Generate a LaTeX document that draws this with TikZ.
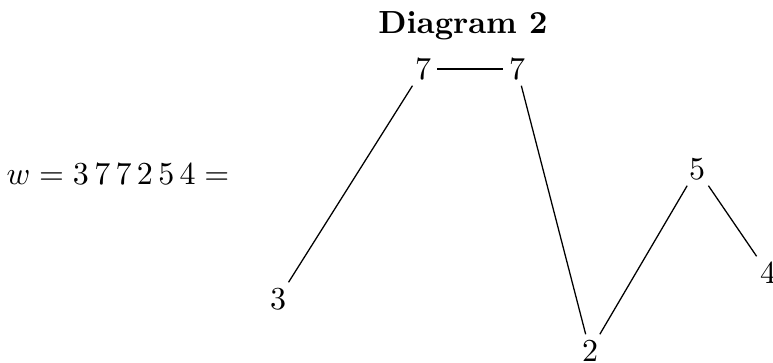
\documentclass[tikz,border=0pt]{standalone}
\usepackage{amsmath}
\usepackage{tikz}
\usetikzlibrary{positioning}
\tikzset{
    entry/.style={inner sep=1.8pt},
    link/.style={line width=0.4pt},
    pair/.style={line width=0.65pt},
}
\begin{document}
\begin{tikzpicture}[x=0.3125pt, y=-0.3125pt]
        \useasboundingbox (0,0) rectangle (773,363);
        % title and word
        \node[anchor=base] (title) at (463,34) {\textbf{Diagram 2}};
        \node[anchor=base] (word) at (118,185) {$w = 3\,7\,7\,2\,5\,4 =$};
        % letters of the word
        \node[entry] (a) at (278,299) {$3$};
        \node[entry] (b) at (423,69)  {$7$};
        \node[entry] (c) at (517,69)  {$7$};
        \node[entry] (d) at (590,351) {$2$};
        \node[entry] (e) at (697,169) {$5$};
        \node[entry] (f) at (768,273) {$4$};
        % connections
        \draw[link] (a) -- (b);
        \draw[pair] (b) -- (c);
        \draw[link] (c) -- (d);
        \draw[link] (d) -- (e);
        \draw[link] (e) -- (f);
    \end{tikzpicture}
\end{document}
